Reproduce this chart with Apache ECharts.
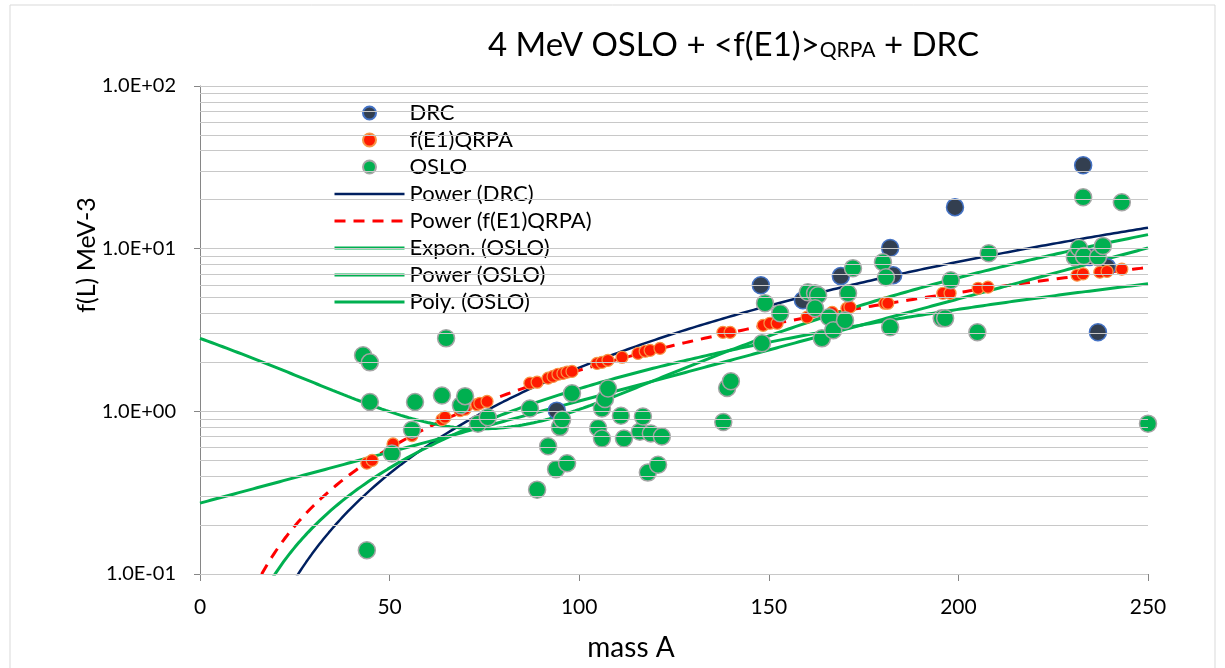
<!DOCTYPE html>
<html>
<head>
<meta charset="utf-8">
<script src="https://cdn.jsdelivr.net/npm/echarts@6/dist/echarts.min.js"></script>
<style>html,body{margin:0;padding:0;background:#fff}#c{width:1225px;height:668px}</style>
</head>
<body>
<div id="c"></div>
<script>
// ---- data ----
const xTickValues = [0, 50, 100, 150, 200, 250];
const yTickLabels = ['1.0E-01', '1.0E+00', '1.0E+01', '1.0E+02'];

const drcPoints = [
  [94.1, 1.01], [147.9, 5.96], [159.0, 4.82], [169.0, 6.78], [182.0, 10.1], [182.8, 6.87],
  [199.1, 18.0], [232.9, 32.6], [234.5, 8.9], [236.8, 3.06], [239.2, 7.7]
];

const qrpaPoints = [
  [44.0, 0.48], [45.4, 0.50], [50.9, 0.63], [55.9, 0.71], [63.8, 0.89], [64.6, 0.92],
  [68.6, 1.01], [69.9, 1.03], [73.0, 1.10], [73.8, 1.12], [75.7, 1.15], [87.0, 1.49],
  [88.9, 1.51], [91.8, 1.60], [93.1, 1.64], [94.4, 1.69], [95.7, 1.71], [96.8, 1.74],
  [98.1, 1.76], [104.7, 1.97], [106.0, 2.00], [107.6, 2.06], [111.3, 2.15], [115.5, 2.27],
  [117.4, 2.34], [118.7, 2.37], [121.3, 2.44], [137.9, 3.06], [139.8, 3.06], [148.5, 3.38],
  [150.3, 3.48], [152.2, 3.48], [160.1, 3.79], [166.7, 4.06], [170.6, 4.30], [171.4, 4.37],
  [180.6, 4.62], [181.4, 4.62], [195.9, 5.32], [197.8, 5.32], [205.2, 5.71], [207.8, 5.80],
  [231.3, 6.87], [232.9, 7.00], [237.3, 7.17], [239.2, 7.25], [243.1, 7.48]
];

const osloPoints = [
  [43.0, 2.21], [44.8, 2.00], [44.8, 1.14], [44.0, 0.14], [50.6, 0.55], [55.9, 0.77],
  [56.7, 1.14], [63.8, 1.25], [64.9, 2.81], [68.8, 1.09], [69.9, 1.24], [73.3, 0.84],
  [75.9, 0.92], [87.0, 1.04], [88.9, 0.33], [91.8, 0.61], [93.9, 0.44], [94.9, 0.80],
  [95.5, 0.89], [96.8, 0.48], [98.1, 1.29], [105.0, 0.79], [106.0, 0.68], [106.0, 1.04],
  [106.8, 1.19], [107.6, 1.38], [111.0, 0.94], [111.8, 0.68], [116.0, 0.75], [116.8, 0.93],
  [118.1, 0.42], [118.9, 0.73], [120.8, 0.47], [121.8, 0.70], [138.0, 0.86], [139.0, 1.39],
  [140.0, 1.53], [148.2, 2.62], [149.0, 4.62], [153.0, 4.01], [160.3, 5.40], [162.2, 5.32],
  [163.0, 5.17], [162.2, 4.30], [164.0, 2.81], [165.9, 3.79], [167.0, 3.15], [170.1, 3.63],
  [170.9, 5.32], [172.2, 7.59], [180.1, 8.26], [180.9, 6.68], [182.0, 3.29], [195.6, 3.73],
  [196.5, 3.73], [198.0, 6.40], [205.0, 3.06], [208.0, 9.38], [230.7, 8.87], [231.8, 10.1],
  [232.9, 20.7], [233.1, 9.0], [236.8, 8.87], [238.1, 10.4], [243.1, 19.3], [250.0, 0.84]
];

// trendline coefficients (as shown by the reference's fitted curves)
const trendPowerDRC = [8.80e-5, 2.162];          // y = a * x^b
const trendPowerQRPA = [1.186e-3, 1.589];        // y = a * x^b
const trendExpOSLO = [0.2727, 0.014453];         // y = a * e^(b x)
const trendPowerOSLO = [7.93e-4, 1.62];          // y = a * x^b
const trendPolyOSLO = [2.81, -0.05476, 0.0003693]; // y = c0 + c1 x + c2 x^2

const minorMultipliers = [2, 3, 4, 5, 6, 7, 8, 9];
const decades = [0.1, 1, 10];

// ---- build helpers ----
function sampleCurve(fn) {
  const pts = [];
  for (let x = 0.5; x <= 250.0001; x += 0.5) pts.push([x, fn(x)]);
  return pts;
}
const powerDRC = sampleCurve(x => trendPowerDRC[0] * Math.pow(x, trendPowerDRC[1]));
const powerQRPA = sampleCurve(x => trendPowerQRPA[0] * Math.pow(x, trendPowerQRPA[1]));
const expOSLO = [[0, trendExpOSLO[0]]].concat(sampleCurve(x => trendExpOSLO[0] * Math.exp(trendExpOSLO[1] * x)));
const powerOSLO = sampleCurve(x => trendPowerOSLO[0] * Math.pow(x, trendPowerOSLO[1]));
const polyOSLO = [[0, trendPolyOSLO[0]]].concat(sampleCurve(x => trendPolyOSLO[0] + trendPolyOSLO[1] * x + trendPolyOSLO[2] * x * x));

const gridValues = [];
decades.forEach(d => {
  gridValues.push(d);
  minorMultipliers.forEach(m => gridValues.push(+(d * m).toPrecision(3)));
});
gridValues.push(100);

const FONT = 'Lato, "Open Sans", sans-serif';
const GREEN = '#00B050';
const NAVY = '#002060';
const RED = '#FF0000';
const hideSym = {opacity: 0};

const chart = echarts.init(document.getElementById('c'), null, {renderer: 'canvas'});
chart.setOption({
  animation: false,
  backgroundColor: '#ffffff',
  textStyle: {fontFamily: FONT},
  grid: {left: 200, right: 77, top: 86, bottom: 94, containLabel: false},
  graphic: [
    {type: 'rect', shape: {x: 10, y: 5, width: 1205, height: 700}, style: {fill: 'none', stroke: '#D9D9D9', lineWidth: 1}, z: -10},
    {type: 'text', left: 488, top: 29, style: {
      rich: {a: {fontSize: 33, fontFamily: FONT, fill: '#000'}, b: {fontSize: 21, fontFamily: FONT, fill: '#000', padding: [10, 0, 0, 0]}},
      text: '{a|4 MeV OSLO + <f(E1)>}{b|QRPA}{a| + DRC}'
    }},
    {type: 'text', x: 87, y: 255, rotation: Math.PI / 2, style: {text: 'f(L) MeV-3', fontSize: 25, fontFamily: FONT, fill: '#000', textAlign: 'center', textVerticalAlign: 'middle'}},
    {type: 'text', x: 631, y: 648, style: {text: 'mass A', fontSize: 28, fontFamily: FONT, fill: '#000', textAlign: 'center', textVerticalAlign: 'middle'}}
  ],
  legend: {
    orient: 'vertical', left: 328, top: 97, itemWidth: 70, itemHeight: 13, itemGap: 5,
    textStyle: {fontSize: 22, fontFamily: FONT, color: '#000'},
    data: [
      'DRC', 'f(E1)QRPA', 'OSLO',
      {name: 'Power (DRC)', itemStyle: hideSym, lineStyle: {width: 2.5, color: NAVY}},
      {name: 'Power (f(E1)QRPA)', itemStyle: hideSym, lineStyle: {width: 3, color: RED, type: [11, 8]}},
      {name: 'Expon. (OSLO)', itemStyle: hideSym, lineStyle: {width: 3, color: GREEN}},
      {name: 'Power (OSLO)', itemStyle: hideSym, lineStyle: {width: 3, color: GREEN}},
      {name: 'Poly. (OSLO)', itemStyle: hideSym, lineStyle: {width: 3, color: GREEN}}
    ]
  },
  xAxis: {
    type: 'value', min: 0, max: 250, interval: 50,
    axisLine: {show: true, onZero: false, lineStyle: {color: '#868686', width: 1}},
    axisTick: {show: true, length: 7, lineStyle: {color: '#868686'}},
    axisLabel: {fontSize: 21, color: '#000', margin: 23, fontFamily: FONT,
      formatter: v => xTickValues.indexOf(v) >= 0 ? String(v) : ''},
    splitLine: {show: false}
  },
  yAxis: {
    type: 'log', logBase: 10, min: 0.1, max: 100, interval: 1,
    axisLine: {show: true, lineStyle: {color: '#868686', width: 1}},
    axisTick: {show: true, length: 6, lineStyle: {color: '#868686'}},
    axisLabel: {fontSize: 20, color: '#000', margin: 24, fontFamily: FONT,
      formatter: v => yTickLabels[Math.round(Math.log10(v)) + 1]},
    splitLine: {show: false}
  },
  series: [
    {name: 'grid', type: 'line', data: [], silent: true, z: 0,
      markLine: {silent: true, symbol: 'none', label: {show: false}, animation: false,
        lineStyle: {color: '#C8C8C8', width: 1.2, type: 'solid'},
        data: gridValues.map(v => ({yAxis: v}))}},
    {name: 'Power (DRC)', type: 'line', data: powerDRC, showSymbol: false, symbol: 'none', z: 1,
      lineStyle: {color: NAVY, width: 2.5}, itemStyle: {color: NAVY}},
    {name: 'Power (f(E1)QRPA)', type: 'line', data: powerQRPA, showSymbol: false, symbol: 'none', z: 1,
      lineStyle: {color: RED, width: 3, type: [11, 8]}, itemStyle: {color: RED}},
    {name: 'Expon. (OSLO)', type: 'line', data: expOSLO, showSymbol: false, symbol: 'none', z: 1,
      lineStyle: {color: GREEN, width: 3}, itemStyle: {color: GREEN}},
    {name: 'Power (OSLO)', type: 'line', data: powerOSLO, showSymbol: false, symbol: 'none', z: 1,
      lineStyle: {color: GREEN, width: 3}, itemStyle: {color: GREEN}},
    {name: 'Poly. (OSLO)', type: 'line', data: polyOSLO, showSymbol: false, symbol: 'none', z: 1,
      lineStyle: {color: GREEN, width: 3}, itemStyle: {color: GREEN}},
    {name: 'DRC', type: 'scatter', data: drcPoints, symbolSize: 17, z: 2,
      itemStyle: {color: '#333F50', borderColor: '#4472C4', borderWidth: 1.5, opacity: 1}},
    {name: 'f(E1)QRPA', type: 'scatter', data: qrpaPoints, symbolSize: 12, z: 3,
      itemStyle: {color: '#FF1A00', borderColor: '#F79646', borderWidth: 1.2, opacity: 1}},
    {name: 'OSLO', type: 'scatter', data: osloPoints, symbolSize: 17, z: 4,
      itemStyle: {color: GREEN, borderColor: '#A5A5A5', borderWidth: 1.5, opacity: 1}}
  ]
});
</script>
</body>
</html>
